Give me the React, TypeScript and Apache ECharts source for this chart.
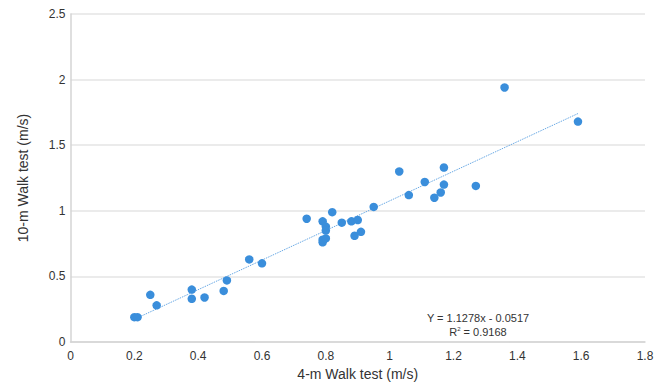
import React, { useEffect, useRef } from "react";
import * as echarts from "echarts";

const walk4m: number[] = [
  0.20, 0.21, 0.25, 0.27, 0.38, 0.38, 0.42, 0.48, 0.49, 0.56, 0.60,
  0.74, 0.79, 0.79, 0.79, 0.80, 0.80, 0.80, 0.82, 0.85, 0.88, 0.89,
  0.90, 0.91, 0.95, 1.03, 1.06, 1.11, 1.14, 1.16, 1.17, 1.17, 1.27,
  1.36, 1.59,
];
const walk10m: number[] = [
  0.19, 0.19, 0.36, 0.28, 0.40, 0.33, 0.34, 0.39, 0.47, 0.63, 0.60,
  0.94, 0.92, 0.76, 0.78, 0.79, 0.88, 0.85, 0.99, 0.91, 0.92, 0.81,
  0.93, 0.84, 1.03, 1.30, 1.12, 1.22, 1.10, 1.14, 1.33, 1.20, 1.19,
  1.94, 1.68,
];
const slope = 1.1278;
const intercept = -0.0517;
const r2 = 0.9168;

export default function App() {
  const ref = useRef<HTMLDivElement>(null);
  useEffect(() => {
    if (!ref.current) return;
    const chart = echarts.init(ref.current, null, { renderer: "svg" });
    const pts = walk4m.map((x, i) => [x, walk10m[i]]);
    const xmin = Math.min(...walk4m);
    const xmax = Math.max(...walk4m);
    const trend = [
      [xmin, slope * xmin + intercept],
      [xmax, slope * xmax + intercept],
    ];
    const font = "Liberation Sans, Arial, sans-serif";
    chart.setOption({
      animation: false,
      textStyle: { fontFamily: font },
      grid: { left: 70.5, right: 19, top: 14, bottom: 43 },
      xAxis: {
        type: "value",
        min: 0,
        max: 1.8,
        interval: 0.2,
        name: "4-m Walk test (m/s)",
        nameLocation: "middle",
        nameGap: 21,
        nameTextStyle: { fontSize: 14, color: "#333", fontFamily: font },
        axisLine: { show: true, lineStyle: { color: "#d4d4d4", width: 1.5 } },
        axisTick: { show: false },
        axisLabel: { fontSize: 12, color: "#333", margin: 8, fontFamily: font },
        splitLine: { show: false },
      },
      yAxis: {
        type: "value",
        min: 0,
        max: 2.5,
        interval: 0.5,
        name: "10-m Walk test (m/s)",
        nameLocation: "middle",
        nameGap: 41,
        nameTextStyle: { fontSize: 14, color: "#333", fontFamily: font },
        axisLine: { show: true, lineStyle: { color: "#d4d4d4", width: 1.5 } },
        axisTick: { show: false },
        axisLabel: { fontSize: 12, color: "#333", margin: 5, fontFamily: font },
        splitLine: { show: true, lineStyle: { color: "#e4e4e4", width: 1.5 } },
      },
      series: [
        {
          type: "line",
          data: trend,
          symbol: "none",
          lineStyle: { color: "#6aa9e4", width: 1, type: [1.5, 1] },
          silent: true,
          z: 1,
        },
        {
          type: "scatter",
          data: pts,
          symbolSize: 8.5,
          itemStyle: { color: "#3a8edb", opacity: 1 },
          z: 2,
        },
      ],
      graphic: [
        {
          type: "text",
          x: 478,
          y: 318,
          style: {
            text: `Y = ${slope}x - ${Math.abs(intercept)}`,
            fontSize: 11,
            fill: "#333",
            fontFamily: font,
            align: "center",
            verticalAlign: "middle",
          },
        },
        {
          type: "text",
          x: 478,
          y: 332,
          style: {
            text: `R{sup|2} = ${r2}`,
            fontSize: 11,
            fill: "#333",
            fontFamily: font,
            align: "center",
            verticalAlign: "middle",
            rich: {
              sup: { fontSize: 6, verticalAlign: "top", padding: [0, 0, 6, 0], fill: "#333" },
            },
          },
        },
      ],
    });
    return () => chart.dispose();
  }, []);
  return (
    <div
      ref={ref}
      style={{ position: "fixed", left: 0, top: 0, width: 664, height: 386, background: "#fff" }}
    />
  );
}
